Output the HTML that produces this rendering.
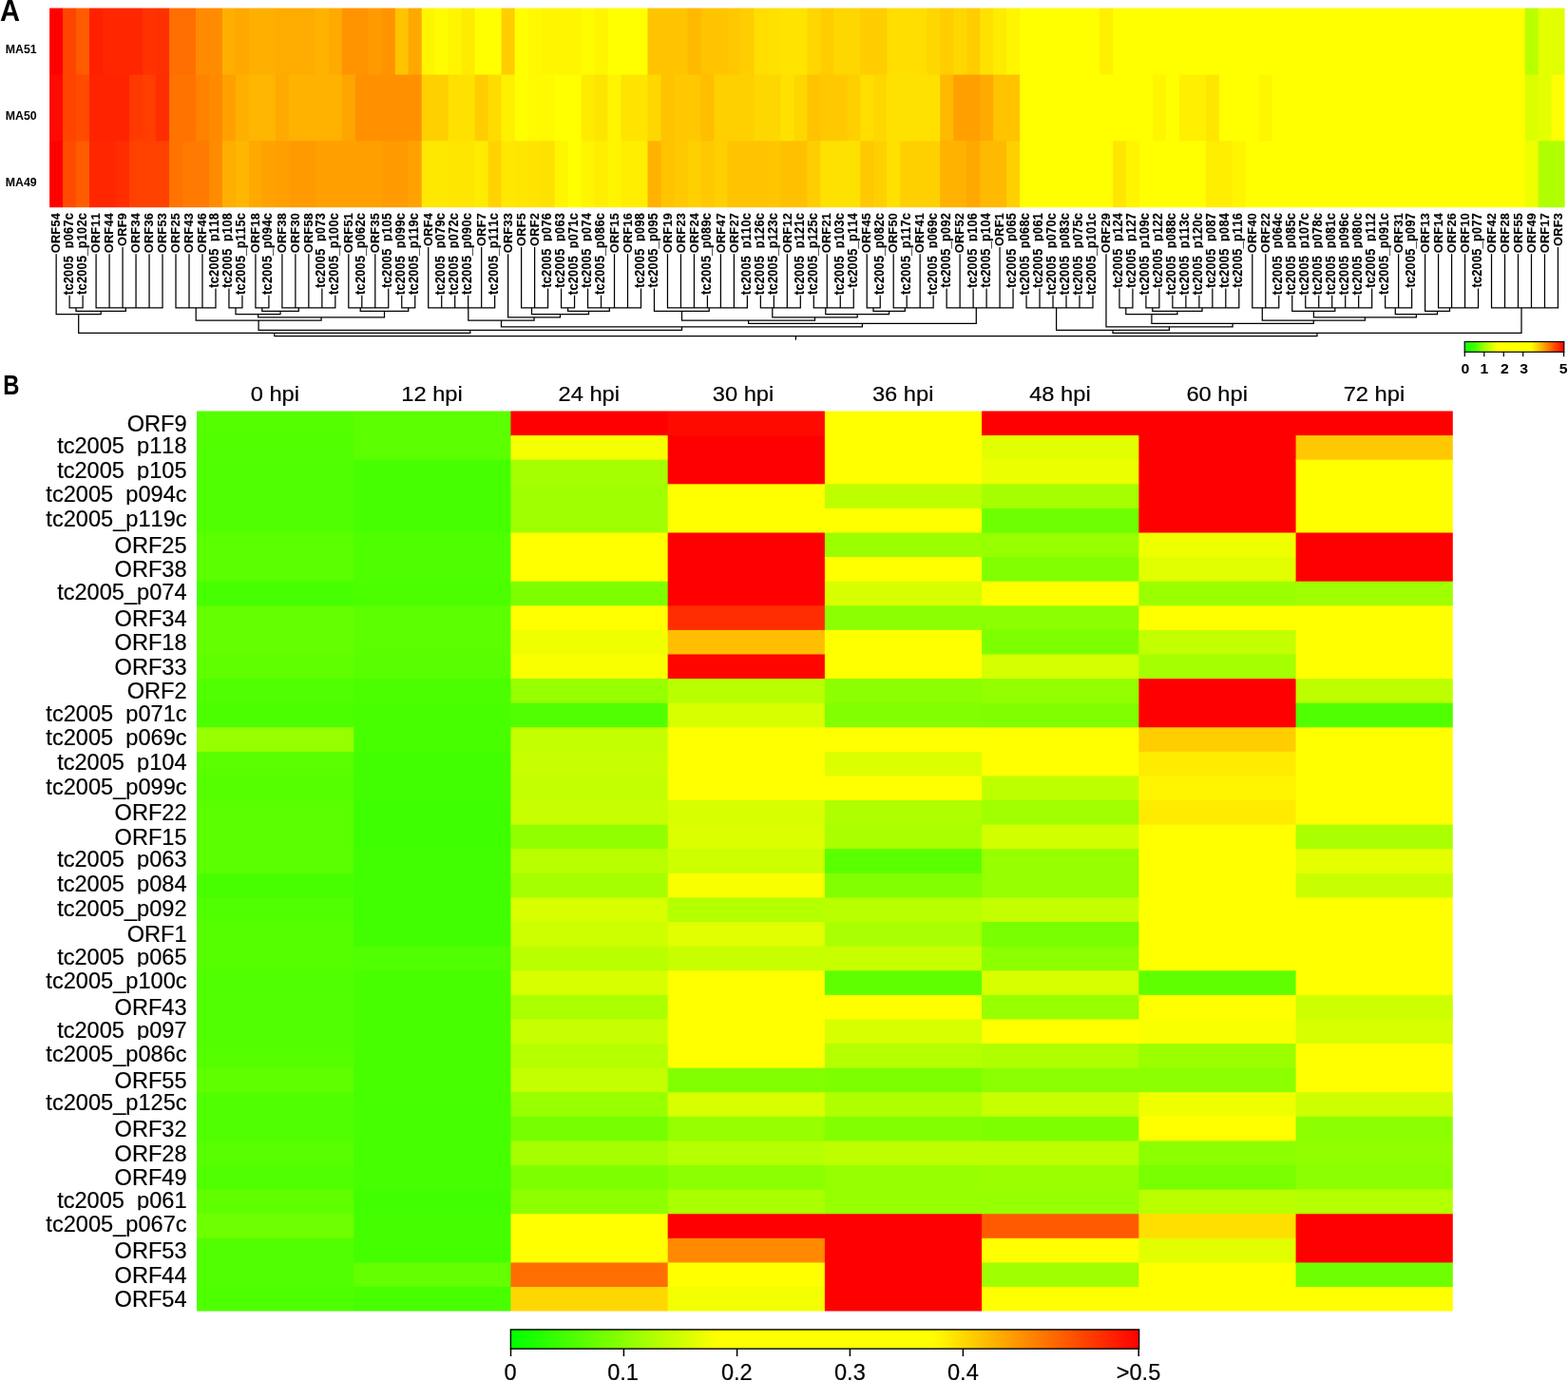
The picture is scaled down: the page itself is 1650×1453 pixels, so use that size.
<!DOCTYPE html>
<html lang="en"><head><meta charset="utf-8"><title>Figure</title>
<style>
html,body{margin:0;padding:0;background:#fff;}
body{width:1650px;height:1453px;overflow:hidden;}
svg{display:block;font-family:"Liberation Sans",sans-serif;}
svg text{white-space:pre;font-kerning:none;}
.al{font-weight:bold;font-size:12.7px;text-anchor:end;fill:#000;letter-spacing:0.3px;stroke:#000;stroke-width:0.12px;}
.al .ws{word-spacing:0.29em;}
.bl{font-size:23.6px;text-anchor:end;fill:#000;stroke:#000;stroke-width:0.2px;}
.bh{font-size:23px;text-anchor:middle;fill:#000;stroke:#000;stroke-width:0.2px;}
.ws{word-spacing:0.278em;}
.d{stroke:#000;stroke-width:1.25;fill:none;stroke-linecap:square;}
</style></head><body>
<svg width="1650" height="1453" viewBox="0 0 1650 1453">
<defs>
<linearGradient id="ga" x1="0" x2="1" y1="0" y2="0">
<stop offset="0" stop-color="#10ff00"/>
<stop offset="0.1" stop-color="#40ff00"/>
<stop offset="0.2" stop-color="#a0ff00"/>
<stop offset="0.33" stop-color="#ffff00"/>
<stop offset="0.67" stop-color="#ffff00"/>
<stop offset="0.78" stop-color="#ffb000"/>
<stop offset="0.9" stop-color="#ff5000"/>
<stop offset="1" stop-color="#ff0000"/>
</linearGradient>
<linearGradient id="gb" x1="0" x2="1" y1="0" y2="0">
<stop offset="0" stop-color="#00ff00"/>
<stop offset="0.33" stop-color="#ffff00"/>
<stop offset="0.67" stop-color="#ffff00"/>
<stop offset="1" stop-color="#ff0000"/>
</linearGradient>
</defs>
<rect x="0" y="0" width="1650" height="1453" fill="#fff"/>
<g id="panelA">
<text transform="translate(0.1,21.6) scale(1.04,1.13)" font-weight="bold" font-size="28">A</text>
<text transform="translate(5.7,56) scale(1,1.09)" font-weight="bold" font-size="12.35">MA51</text>
<text transform="translate(5.7,125.9) scale(1,1.09)" font-weight="bold" font-size="12.35">MA50</text>
<text transform="translate(5.7,195.9) scale(1,1.09)" font-weight="bold" font-size="12.35">MA49</text>
<g>
<rect x="50.1" y="6.6" width="16.99" height="72.95" fill="#ff0000"/>
<rect x="66.09" y="6.6" width="14.99" height="72.95" fill="#ff4400"/>
<rect x="80.07" y="6.6" width="14.99" height="72.95" fill="#ff5c00"/>
<rect x="94.06" y="6.6" width="14.99" height="72.95" fill="#ff2000"/>
<rect x="108.05" y="6.6" width="42.96" height="72.95" fill="#ff2600"/>
<rect x="150.01" y="6.6" width="14.99" height="72.95" fill="#ff3200"/>
<rect x="163.99" y="6.6" width="14.99" height="72.95" fill="#ff3000"/>
<rect x="177.98" y="6.6" width="28.97" height="72.95" fill="#ff6e00"/>
<rect x="205.96" y="6.6" width="28.97" height="72.95" fill="#ff8c00"/>
<rect x="233.93" y="6.6" width="14.99" height="72.95" fill="#ffaf00"/>
<rect x="247.92" y="6.6" width="14.99" height="72.95" fill="#ffa800"/>
<rect x="261.9" y="6.6" width="28.97" height="72.95" fill="#ffaf00"/>
<rect x="289.88" y="6.6" width="42.96" height="72.95" fill="#ffac00"/>
<rect x="331.84" y="6.6" width="14.99" height="72.95" fill="#ffb200"/>
<rect x="345.82" y="6.6" width="14.99" height="72.95" fill="#ffaa00"/>
<rect x="359.81" y="6.6" width="28.97" height="72.95" fill="#ff9400"/>
<rect x="387.78" y="6.6" width="14.99" height="72.95" fill="#ff9b00"/>
<rect x="401.77" y="6.6" width="14.99" height="72.95" fill="#ff9400"/>
<rect x="415.76" y="6.6" width="14.99" height="72.95" fill="#ffc300"/>
<rect x="429.74" y="6.6" width="14.99" height="72.95" fill="#ffa800"/>
<rect x="443.73" y="6.6" width="14.99" height="72.95" fill="#fff500"/>
<rect x="457.72" y="6.6" width="14.99" height="72.95" fill="#fffc00"/>
<rect x="471.71" y="6.6" width="14.99" height="72.95" fill="#fff500"/>
<rect x="485.69" y="6.6" width="14.99" height="72.95" fill="#ffeb00"/>
<rect x="499.68" y="6.6" width="28.97" height="72.95" fill="#ffff00"/>
<rect x="527.65" y="6.6" width="14.99" height="72.95" fill="#ffcd00"/>
<rect x="541.64" y="6.6" width="14.99" height="72.95" fill="#ffff00"/>
<rect x="555.63" y="6.6" width="14.99" height="72.95" fill="#fff800"/>
<rect x="569.61" y="6.6" width="42.96" height="72.95" fill="#fff500"/>
<rect x="611.57" y="6.6" width="14.99" height="72.95" fill="#fffc00"/>
<rect x="625.56" y="6.6" width="14.99" height="72.95" fill="#fff500"/>
<rect x="639.55" y="6.6" width="42.96" height="72.95" fill="#ffff00"/>
<rect x="681.51" y="6.6" width="42.96" height="72.95" fill="#ffc300"/>
<rect x="723.47" y="6.6" width="14.99" height="72.95" fill="#ffb900"/>
<rect x="737.46" y="6.6" width="28.97" height="72.95" fill="#ffc300"/>
<rect x="765.43" y="6.6" width="14.99" height="72.95" fill="#ffc800"/>
<rect x="779.42" y="6.6" width="14.99" height="72.95" fill="#ffcd00"/>
<rect x="793.4" y="6.6" width="14.99" height="72.95" fill="#ffde00"/>
<rect x="807.39" y="6.6" width="14.99" height="72.95" fill="#ffe100"/>
<rect x="821.38" y="6.6" width="28.97" height="72.95" fill="#ffe400"/>
<rect x="849.35" y="6.6" width="14.99" height="72.95" fill="#ffd700"/>
<rect x="863.34" y="6.6" width="14.99" height="72.95" fill="#ffcd00"/>
<rect x="877.32" y="6.6" width="28.97" height="72.95" fill="#ffd700"/>
<rect x="905.3" y="6.6" width="28.97" height="72.95" fill="#ffcd00"/>
<rect x="933.27" y="6.6" width="42.96" height="72.95" fill="#ffde00"/>
<rect x="975.23" y="6.6" width="14.99" height="72.95" fill="#ffd700"/>
<rect x="989.22" y="6.6" width="14.99" height="72.95" fill="#ffcd00"/>
<rect x="1003.21" y="6.6" width="14.99" height="72.95" fill="#ffd700"/>
<rect x="1017.19" y="6.6" width="14.99" height="72.95" fill="#ffcd00"/>
<rect x="1031.18" y="6.6" width="14.99" height="72.95" fill="#ffe100"/>
<rect x="1045.17" y="6.6" width="14.99" height="72.95" fill="#ffeb00"/>
<rect x="1059.15" y="6.6" width="14.99" height="72.95" fill="#fff500"/>
<rect x="1073.14" y="6.6" width="84.92" height="72.95" fill="#ffff00"/>
<rect x="1157.06" y="6.6" width="14.99" height="72.95" fill="#fff000"/>
<rect x="1171.05" y="6.6" width="434.59" height="72.95" fill="#ffff00"/>
<rect x="1604.64" y="6.6" width="14.99" height="72.95" fill="#b9ff00"/>
<rect x="1618.63" y="6.6" width="14.99" height="72.95" fill="#e4ff00"/>
<rect x="1632.61" y="6.6" width="15.99" height="72.95" fill="#e1ff00"/>
<rect x="50.1" y="78.55" width="16.99" height="70.75" fill="#ff0a00"/>
<rect x="66.09" y="78.55" width="14.99" height="70.75" fill="#ff4400"/>
<rect x="80.07" y="78.55" width="14.99" height="70.75" fill="#ff4b00"/>
<rect x="94.06" y="78.55" width="42.96" height="70.75" fill="#ff2300"/>
<rect x="136.02" y="78.55" width="14.99" height="70.75" fill="#ff3a00"/>
<rect x="150.01" y="78.55" width="14.99" height="70.75" fill="#ff3e00"/>
<rect x="163.99" y="78.55" width="14.99" height="70.75" fill="#ff2d00"/>
<rect x="177.98" y="78.55" width="28.97" height="70.75" fill="#ff7300"/>
<rect x="205.96" y="78.55" width="14.99" height="70.75" fill="#ff8200"/>
<rect x="219.94" y="78.55" width="14.99" height="70.75" fill="#ff8a00"/>
<rect x="233.93" y="78.55" width="14.99" height="70.75" fill="#ffa000"/>
<rect x="247.92" y="78.55" width="14.99" height="70.75" fill="#ffaf00"/>
<rect x="261.9" y="78.55" width="28.97" height="70.75" fill="#ffb600"/>
<rect x="289.88" y="78.55" width="14.99" height="70.75" fill="#ffaa00"/>
<rect x="303.86" y="78.55" width="56.95" height="70.75" fill="#ffb200"/>
<rect x="359.81" y="78.55" width="14.99" height="70.75" fill="#ffa500"/>
<rect x="373.8" y="78.55" width="70.93" height="70.75" fill="#ff9100"/>
<rect x="443.73" y="78.55" width="28.97" height="70.75" fill="#ffd000"/>
<rect x="471.71" y="78.55" width="28.97" height="70.75" fill="#ffe100"/>
<rect x="499.68" y="78.55" width="14.99" height="70.75" fill="#ffcd00"/>
<rect x="513.67" y="78.55" width="14.99" height="70.75" fill="#ffdc00"/>
<rect x="527.65" y="78.55" width="14.99" height="70.75" fill="#fff000"/>
<rect x="541.64" y="78.55" width="14.99" height="70.75" fill="#ffff00"/>
<rect x="555.63" y="78.55" width="28.97" height="70.75" fill="#fffa00"/>
<rect x="583.6" y="78.55" width="28.97" height="70.75" fill="#ffff00"/>
<rect x="611.57" y="78.55" width="14.99" height="70.75" fill="#ffeb00"/>
<rect x="625.56" y="78.55" width="14.99" height="70.75" fill="#ffe400"/>
<rect x="639.55" y="78.55" width="14.99" height="70.75" fill="#fff500"/>
<rect x="653.53" y="78.55" width="28.97" height="70.75" fill="#ffe400"/>
<rect x="681.51" y="78.55" width="14.99" height="70.75" fill="#ffd700"/>
<rect x="695.49" y="78.55" width="14.99" height="70.75" fill="#ffc300"/>
<rect x="709.48" y="78.55" width="28.97" height="70.75" fill="#ffc800"/>
<rect x="737.46" y="78.55" width="14.99" height="70.75" fill="#ffbe00"/>
<rect x="751.44" y="78.55" width="42.96" height="70.75" fill="#ffd000"/>
<rect x="793.4" y="78.55" width="28.97" height="70.75" fill="#ffd700"/>
<rect x="821.38" y="78.55" width="14.99" height="70.75" fill="#ffe100"/>
<rect x="835.36" y="78.55" width="14.99" height="70.75" fill="#ffd700"/>
<rect x="849.35" y="78.55" width="14.99" height="70.75" fill="#ffc300"/>
<rect x="863.34" y="78.55" width="28.97" height="70.75" fill="#ffc800"/>
<rect x="891.31" y="78.55" width="14.99" height="70.75" fill="#ffd000"/>
<rect x="905.3" y="78.55" width="14.99" height="70.75" fill="#ffde00"/>
<rect x="919.28" y="78.55" width="14.99" height="70.75" fill="#ffd700"/>
<rect x="933.27" y="78.55" width="56.95" height="70.75" fill="#ffe100"/>
<rect x="989.22" y="78.55" width="14.99" height="70.75" fill="#ffb900"/>
<rect x="1003.21" y="78.55" width="28.97" height="70.75" fill="#ffa000"/>
<rect x="1031.18" y="78.55" width="14.99" height="70.75" fill="#ffaa00"/>
<rect x="1045.17" y="78.55" width="28.97" height="70.75" fill="#ffc300"/>
<rect x="1073.14" y="78.55" width="140.87" height="70.75" fill="#ffff00"/>
<rect x="1213.01" y="78.55" width="14.99" height="70.75" fill="#fff500"/>
<rect x="1226.99" y="78.55" width="14.99" height="70.75" fill="#ffff00"/>
<rect x="1240.98" y="78.55" width="28.97" height="70.75" fill="#fff000"/>
<rect x="1268.96" y="78.55" width="14.99" height="70.75" fill="#ffe600"/>
<rect x="1282.94" y="78.55" width="42.96" height="70.75" fill="#ffff00"/>
<rect x="1324.9" y="78.55" width="14.99" height="70.75" fill="#fff500"/>
<rect x="1338.89" y="78.55" width="266.75" height="70.75" fill="#ffff00"/>
<rect x="1604.64" y="78.55" width="14.99" height="70.75" fill="#dcff00"/>
<rect x="1618.63" y="78.55" width="14.99" height="70.75" fill="#e4ff00"/>
<rect x="1632.61" y="78.55" width="15.99" height="70.75" fill="#ffff00"/>
<rect x="50.1" y="148.3" width="16.99" height="72" fill="#ff0000"/>
<rect x="66.09" y="148.3" width="14.99" height="72" fill="#ff4b00"/>
<rect x="80.07" y="148.3" width="14.99" height="72" fill="#ff5c00"/>
<rect x="94.06" y="148.3" width="28.97" height="72" fill="#ff2600"/>
<rect x="122.03" y="148.3" width="14.99" height="72" fill="#ff2d00"/>
<rect x="136.02" y="148.3" width="42.96" height="72" fill="#ff4100"/>
<rect x="177.98" y="148.3" width="14.99" height="72" fill="#ff7300"/>
<rect x="191.97" y="148.3" width="28.97" height="72" fill="#ff7a00"/>
<rect x="219.94" y="148.3" width="14.99" height="72" fill="#ff8c00"/>
<rect x="233.93" y="148.3" width="14.99" height="72" fill="#ffaf00"/>
<rect x="247.92" y="148.3" width="14.99" height="72" fill="#ffb600"/>
<rect x="261.9" y="148.3" width="14.99" height="72" fill="#ffa800"/>
<rect x="275.89" y="148.3" width="14.99" height="72" fill="#ffa200"/>
<rect x="289.88" y="148.3" width="14.99" height="72" fill="#ffa000"/>
<rect x="303.86" y="148.3" width="28.97" height="72" fill="#ff9b00"/>
<rect x="331.84" y="148.3" width="70.93" height="72" fill="#ffa000"/>
<rect x="401.77" y="148.3" width="28.97" height="72" fill="#ff9b00"/>
<rect x="429.74" y="148.3" width="14.99" height="72" fill="#ffa200"/>
<rect x="443.73" y="148.3" width="28.97" height="72" fill="#ffe800"/>
<rect x="471.71" y="148.3" width="28.97" height="72" fill="#ffe600"/>
<rect x="499.68" y="148.3" width="14.99" height="72" fill="#ffeb00"/>
<rect x="513.67" y="148.3" width="14.99" height="72" fill="#ffd200"/>
<rect x="527.65" y="148.3" width="14.99" height="72" fill="#ffe800"/>
<rect x="541.64" y="148.3" width="14.99" height="72" fill="#ffe600"/>
<rect x="555.63" y="148.3" width="14.99" height="72" fill="#ffe400"/>
<rect x="569.61" y="148.3" width="14.99" height="72" fill="#ffe100"/>
<rect x="583.6" y="148.3" width="14.99" height="72" fill="#fff500"/>
<rect x="597.59" y="148.3" width="14.99" height="72" fill="#ffff00"/>
<rect x="611.57" y="148.3" width="14.99" height="72" fill="#fff500"/>
<rect x="625.56" y="148.3" width="14.99" height="72" fill="#ffee00"/>
<rect x="639.55" y="148.3" width="14.99" height="72" fill="#fff500"/>
<rect x="653.53" y="148.3" width="28.97" height="72" fill="#ffee00"/>
<rect x="681.51" y="148.3" width="14.99" height="72" fill="#ffb200"/>
<rect x="695.49" y="148.3" width="14.99" height="72" fill="#ffc300"/>
<rect x="709.48" y="148.3" width="14.99" height="72" fill="#ffc800"/>
<rect x="723.47" y="148.3" width="14.99" height="72" fill="#ffd000"/>
<rect x="737.46" y="148.3" width="14.99" height="72" fill="#ffc800"/>
<rect x="751.44" y="148.3" width="14.99" height="72" fill="#ffd000"/>
<rect x="765.43" y="148.3" width="42.96" height="72" fill="#ffc300"/>
<rect x="807.39" y="148.3" width="14.99" height="72" fill="#ffc600"/>
<rect x="821.38" y="148.3" width="28.97" height="72" fill="#ffc000"/>
<rect x="849.35" y="148.3" width="14.99" height="72" fill="#ffcd00"/>
<rect x="863.34" y="148.3" width="42.96" height="72" fill="#ffe100"/>
<rect x="905.3" y="148.3" width="14.99" height="72" fill="#ffc800"/>
<rect x="919.28" y="148.3" width="14.99" height="72" fill="#ffd000"/>
<rect x="933.27" y="148.3" width="14.99" height="72" fill="#ffe100"/>
<rect x="947.26" y="148.3" width="42.96" height="72" fill="#ffd000"/>
<rect x="989.22" y="148.3" width="28.97" height="72" fill="#ffb200"/>
<rect x="1017.19" y="148.3" width="14.99" height="72" fill="#ffa800"/>
<rect x="1031.18" y="148.3" width="28.97" height="72" fill="#ffb900"/>
<rect x="1059.15" y="148.3" width="14.99" height="72" fill="#ffd000"/>
<rect x="1073.14" y="148.3" width="98.91" height="72" fill="#ffff00"/>
<rect x="1171.05" y="148.3" width="14.99" height="72" fill="#ffe600"/>
<rect x="1185.03" y="148.3" width="14.99" height="72" fill="#fff500"/>
<rect x="1199.02" y="148.3" width="70.93" height="72" fill="#ffff00"/>
<rect x="1268.96" y="148.3" width="28.97" height="72" fill="#ffee00"/>
<rect x="1296.93" y="148.3" width="14.99" height="72" fill="#fff500"/>
<rect x="1310.92" y="148.3" width="294.72" height="72" fill="#ffff00"/>
<rect x="1604.64" y="148.3" width="14.99" height="72" fill="#f0ff00"/>
<rect x="1618.63" y="148.3" width="29.97" height="72" fill="#afff00"/>
<path fill="#fff" fill-rule="evenodd" d="M49.1 5.6H1649.6V221.3H49.1ZM52.1 8.6H1646.6V218.3H52.1Z"/>
</g>
<g class="al">
<text transform="translate(63.35,223.85) rotate(-90) scale(1,1.05)">ORF54</text>
<text class="ws" transform="translate(76.53,223.85) rotate(-90) scale(1,1.08)">tc2005 p067c</text>
<rect x="77.44" y="221" width="3.4" height="95" fill="#fff" stroke="none"/>
<text transform="translate(90.52,223.85) rotate(-90) scale(1,1.08)">tc2005_p102c</text>
<text transform="translate(105.3,223.85) rotate(-90) scale(1,1.05)">ORF11</text>
<text transform="translate(119.29,223.85) rotate(-90) scale(1,1.05)">ORF44</text>
<text transform="translate(133.27,223.85) rotate(-90) scale(1,1.05)">ORF9</text>
<text transform="translate(147.26,223.85) rotate(-90) scale(1,1.05)">ORF34</text>
<text transform="translate(161.24,223.85) rotate(-90) scale(1,1.05)">ORF36</text>
<text transform="translate(175.23,223.85) rotate(-90) scale(1,1.05)">ORF53</text>
<text transform="translate(189.21,223.85) rotate(-90) scale(1,1.05)">ORF25</text>
<text transform="translate(203.2,223.85) rotate(-90) scale(1,1.05)">ORF43</text>
<text transform="translate(217.18,223.85) rotate(-90) scale(1,1.05)">ORF46</text>
<text class="ws" transform="translate(230.37,223.85) rotate(-90) scale(1,1.08)">tc2005 p118</text>
<rect x="231.27" y="221" width="3.4" height="95" fill="#fff" stroke="none"/>
<text class="ws" transform="translate(244.35,223.85) rotate(-90) scale(1,1.08)">tc2005 p108</text>
<rect x="245.25" y="221" width="3.4" height="95" fill="#fff" stroke="none"/>
<text transform="translate(258.34,223.85) rotate(-90) scale(1,1.08)">tc2005_p115c</text>
<text transform="translate(273.12,223.85) rotate(-90) scale(1,1.05)">ORF18</text>
<text transform="translate(286.31,223.85) rotate(-90) scale(1,1.08)">tc2005_p094c</text>
<text transform="translate(301.09,223.85) rotate(-90) scale(1,1.05)">ORF38</text>
<text transform="translate(315.08,223.85) rotate(-90) scale(1,1.05)">ORF30</text>
<text transform="translate(329.06,223.85) rotate(-90) scale(1,1.05)">ORF58</text>
<text class="ws" transform="translate(342.25,223.85) rotate(-90) scale(1,1.08)">tc2005 p073</text>
<rect x="343.15" y="221" width="3.4" height="95" fill="#fff" stroke="none"/>
<text transform="translate(356.23,223.85) rotate(-90) scale(1,1.08)">tc2005_p100c</text>
<text transform="translate(371.02,223.85) rotate(-90) scale(1,1.05)">ORF51</text>
<text transform="translate(384.2,223.85) rotate(-90) scale(1,1.08)">tc2005_p062c</text>
<text transform="translate(398.99,223.85) rotate(-90) scale(1,1.05)">ORF35</text>
<text class="ws" transform="translate(412.17,223.85) rotate(-90) scale(1,1.08)">tc2005 p105</text>
<rect x="413.07" y="221" width="3.4" height="95" fill="#fff" stroke="none"/>
<text class="ws" transform="translate(426.16,223.85) rotate(-90) scale(1,1.08)">tc2005 p099c</text>
<rect x="427.06" y="221" width="3.4" height="95" fill="#fff" stroke="none"/>
<text transform="translate(440.14,223.85) rotate(-90) scale(1,1.08)">tc2005_p119c</text>
<text transform="translate(454.93,223.85) rotate(-90) scale(1,1.05)">ORF4</text>
<text class="ws" transform="translate(468.11,223.85) rotate(-90) scale(1,1.08)">tc2005 p079c</text>
<rect x="469.01" y="221" width="3.4" height="95" fill="#fff" stroke="none"/>
<text class="ws" transform="translate(482.1,223.85) rotate(-90) scale(1,1.08)">tc2005 p072c</text>
<rect x="483" y="221" width="3.4" height="95" fill="#fff" stroke="none"/>
<text transform="translate(496.08,223.85) rotate(-90) scale(1,1.08)">tc2005_p090c</text>
<text transform="translate(510.87,223.85) rotate(-90) scale(1,1.05)">ORF7</text>
<text transform="translate(524.06,223.85) rotate(-90) scale(1,1.08)">tc2005_p111c</text>
<text transform="translate(538.84,223.85) rotate(-90) scale(1,1.05)">ORF33</text>
<text transform="translate(552.83,223.85) rotate(-90) scale(1,1.05)">ORF5</text>
<text transform="translate(566.81,223.85) rotate(-90) scale(1,1.05)">ORF2</text>
<text class="ws" transform="translate(580,223.85) rotate(-90) scale(1,1.08)">tc2005 p076</text>
<rect x="580.89" y="221" width="3.4" height="95" fill="#fff" stroke="none"/>
<text class="ws" transform="translate(593.98,223.85) rotate(-90) scale(1,1.08)">tc2005 p063</text>
<rect x="594.88" y="221" width="3.4" height="95" fill="#fff" stroke="none"/>
<text class="ws" transform="translate(607.97,223.85) rotate(-90) scale(1,1.08)">tc2005 p071c</text>
<rect x="608.87" y="221" width="3.4" height="95" fill="#fff" stroke="none"/>
<text class="ws" transform="translate(621.95,223.85) rotate(-90) scale(1,1.08)">tc2005 p074</text>
<rect x="622.85" y="221" width="3.4" height="95" fill="#fff" stroke="none"/>
<text transform="translate(635.94,223.85) rotate(-90) scale(1,1.08)">tc2005_p086c</text>
<text transform="translate(650.72,223.85) rotate(-90) scale(1,1.05)">ORF15</text>
<text transform="translate(664.71,223.85) rotate(-90) scale(1,1.05)">ORF16</text>
<text class="ws" transform="translate(677.89,223.85) rotate(-90) scale(1,1.08)">tc2005 p098</text>
<rect x="678.79" y="221" width="3.4" height="95" fill="#fff" stroke="none"/>
<text transform="translate(691.88,223.85) rotate(-90) scale(1,1.08)">tc2005_p095</text>
<text transform="translate(706.66,223.85) rotate(-90) scale(1,1.05)">ORF19</text>
<text transform="translate(720.64,223.85) rotate(-90) scale(1,1.05)">ORF23</text>
<text transform="translate(734.63,223.85) rotate(-90) scale(1,1.05)">ORF24</text>
<text transform="translate(747.82,223.85) rotate(-90) scale(1,1.08)">tc2005_p089c</text>
<text transform="translate(762.6,223.85) rotate(-90) scale(1,1.05)">ORF47</text>
<text transform="translate(776.59,223.85) rotate(-90) scale(1,1.05)">ORF27</text>
<text class="ws" transform="translate(789.77,223.85) rotate(-90) scale(1,1.08)">tc2005 p110c</text>
<rect x="790.67" y="221" width="3.4" height="95" fill="#fff" stroke="none"/>
<text class="ws" transform="translate(803.75,223.85) rotate(-90) scale(1,1.08)">tc2005 p126c</text>
<rect x="804.65" y="221" width="3.4" height="95" fill="#fff" stroke="none"/>
<text transform="translate(817.74,223.85) rotate(-90) scale(1,1.08)">tc2005_p123c</text>
<text transform="translate(832.52,223.85) rotate(-90) scale(1,1.05)">ORF12</text>
<text class="ws" transform="translate(845.71,223.85) rotate(-90) scale(1,1.08)">tc2005 p121c</text>
<rect x="846.61" y="221" width="3.4" height="95" fill="#fff" stroke="none"/>
<text transform="translate(859.7,223.85) rotate(-90) scale(1,1.08)">tc2005_p125c</text>
<text transform="translate(874.48,223.85) rotate(-90) scale(1,1.05)">ORF21</text>
<text class="ws" transform="translate(887.67,223.85) rotate(-90) scale(1,1.08)">tc2005 p103c</text>
<rect x="888.57" y="221" width="3.4" height="95" fill="#fff" stroke="none"/>
<text transform="translate(901.65,223.85) rotate(-90) scale(1,1.08)">tc2005_p114</text>
<text transform="translate(916.43,223.85) rotate(-90) scale(1,1.05)">ORF45</text>
<text transform="translate(929.62,223.85) rotate(-90) scale(1,1.08)">tc2005_p082c</text>
<text transform="translate(944.4,223.85) rotate(-90) scale(1,1.05)">ORF50</text>
<text transform="translate(957.59,223.85) rotate(-90) scale(1,1.08)">tc2005_p117c</text>
<text transform="translate(972.38,223.85) rotate(-90) scale(1,1.05)">ORF41</text>
<text class="ws" transform="translate(985.56,223.85) rotate(-90) scale(1,1.08)">tc2005 p069c</text>
<rect x="986.46" y="221" width="3.4" height="95" fill="#fff" stroke="none"/>
<text transform="translate(999.55,223.85) rotate(-90) scale(1,1.08)">tc2005_p092</text>
<text transform="translate(1014.33,223.85) rotate(-90) scale(1,1.05)">ORF52</text>
<text class="ws" transform="translate(1027.52,223.85) rotate(-90) scale(1,1.08)">tc2005 p106</text>
<rect x="1028.42" y="221" width="3.4" height="95" fill="#fff" stroke="none"/>
<text transform="translate(1041.5,223.85) rotate(-90) scale(1,1.08)">tc2005_p104</text>
<text transform="translate(1056.29,223.85) rotate(-90) scale(1,1.05)">ORF1</text>
<text class="ws" transform="translate(1069.47,223.85) rotate(-90) scale(1,1.08)">tc2005 p065</text>
<rect x="1070.37" y="221" width="3.4" height="95" fill="#fff" stroke="none"/>
<text class="ws" transform="translate(1083.46,223.85) rotate(-90) scale(1,1.08)">tc2005 p068c</text>
<rect x="1084.36" y="221" width="3.4" height="95" fill="#fff" stroke="none"/>
<text class="ws" transform="translate(1097.44,223.85) rotate(-90) scale(1,1.08)">tc2005 p061</text>
<rect x="1098.34" y="221" width="3.4" height="95" fill="#fff" stroke="none"/>
<text class="ws" transform="translate(1111.43,223.85) rotate(-90) scale(1,1.08)">tc2005 p070c</text>
<rect x="1112.33" y="221" width="3.4" height="95" fill="#fff" stroke="none"/>
<text class="ws" transform="translate(1125.41,223.85) rotate(-90) scale(1,1.08)">tc2005 p083c</text>
<rect x="1126.31" y="221" width="3.4" height="95" fill="#fff" stroke="none"/>
<text class="ws" transform="translate(1139.4,223.85) rotate(-90) scale(1,1.08)">tc2005 p075c</text>
<rect x="1140.3" y="221" width="3.4" height="95" fill="#fff" stroke="none"/>
<text transform="translate(1153.38,223.85) rotate(-90) scale(1,1.08)">tc2005_p101c</text>
<text transform="translate(1168.17,223.85) rotate(-90) scale(1,1.05)">ORF29</text>
<text class="ws" transform="translate(1181.35,223.85) rotate(-90) scale(1,1.08)">tc2005 p124</text>
<rect x="1182.25" y="221" width="3.4" height="95" fill="#fff" stroke="none"/>
<text class="ws" transform="translate(1195.34,223.85) rotate(-90) scale(1,1.08)">tc2005 p127</text>
<rect x="1196.24" y="221" width="3.4" height="95" fill="#fff" stroke="none"/>
<text class="ws" transform="translate(1209.32,223.85) rotate(-90) scale(1,1.08)">tc2005 p109c</text>
<rect x="1210.22" y="221" width="3.4" height="95" fill="#fff" stroke="none"/>
<text class="ws" transform="translate(1223.31,223.85) rotate(-90) scale(1,1.08)">tc2005 p122</text>
<rect x="1224.21" y="221" width="3.4" height="95" fill="#fff" stroke="none"/>
<text class="ws" transform="translate(1237.29,223.85) rotate(-90) scale(1,1.08)">tc2005 p088c</text>
<rect x="1238.19" y="221" width="3.4" height="95" fill="#fff" stroke="none"/>
<text class="ws" transform="translate(1251.28,223.85) rotate(-90) scale(1,1.08)">tc2005 p113c</text>
<rect x="1252.18" y="221" width="3.4" height="95" fill="#fff" stroke="none"/>
<text class="ws" transform="translate(1265.26,223.85) rotate(-90) scale(1,1.08)">tc2005 p120c</text>
<rect x="1266.16" y="221" width="3.4" height="95" fill="#fff" stroke="none"/>
<text class="ws" transform="translate(1279.25,223.85) rotate(-90) scale(1,1.08)">tc2005 p087</text>
<rect x="1280.15" y="221" width="3.4" height="95" fill="#fff" stroke="none"/>
<text class="ws" transform="translate(1293.23,223.85) rotate(-90) scale(1,1.08)">tc2005 p084</text>
<rect x="1294.13" y="221" width="3.4" height="95" fill="#fff" stroke="none"/>
<text transform="translate(1307.22,223.85) rotate(-90) scale(1,1.08)">tc2005_p116</text>
<text transform="translate(1322,223.85) rotate(-90) scale(1,1.05)">ORF40</text>
<text transform="translate(1335.99,223.85) rotate(-90) scale(1,1.05)">ORF22</text>
<text class="ws" transform="translate(1349.17,223.85) rotate(-90) scale(1,1.08)">tc2005 p064c</text>
<rect x="1350.07" y="221" width="3.4" height="95" fill="#fff" stroke="none"/>
<text class="ws" transform="translate(1363.16,223.85) rotate(-90) scale(1,1.08)">tc2005 p085c</text>
<rect x="1364.06" y="221" width="3.4" height="95" fill="#fff" stroke="none"/>
<text class="ws" transform="translate(1377.14,223.85) rotate(-90) scale(1,1.08)">tc2005 p107c</text>
<rect x="1378.04" y="221" width="3.4" height="95" fill="#fff" stroke="none"/>
<text class="ws" transform="translate(1391.13,223.85) rotate(-90) scale(1,1.08)">tc2005 p078c</text>
<rect x="1392.03" y="221" width="3.4" height="95" fill="#fff" stroke="none"/>
<text class="ws" transform="translate(1405.11,223.85) rotate(-90) scale(1,1.08)">tc2005 p081c</text>
<rect x="1406.01" y="221" width="3.4" height="95" fill="#fff" stroke="none"/>
<text class="ws" transform="translate(1419.1,223.85) rotate(-90) scale(1,1.08)">tc2005 p096c</text>
<rect x="1420" y="221" width="3.4" height="95" fill="#fff" stroke="none"/>
<text class="ws" transform="translate(1433.08,223.85) rotate(-90) scale(1,1.08)">tc2005 p080c</text>
<rect x="1433.98" y="221" width="3.4" height="95" fill="#fff" stroke="none"/>
<text class="ws" transform="translate(1447.07,223.85) rotate(-90) scale(1,1.08)">tc2005 p112</text>
<rect x="1447.97" y="221" width="3.4" height="95" fill="#fff" stroke="none"/>
<text transform="translate(1461.05,223.85) rotate(-90) scale(1,1.08)">tc2005_p091c</text>
<text transform="translate(1475.84,223.85) rotate(-90) scale(1,1.05)">ORF31</text>
<text transform="translate(1489.02,223.85) rotate(-90) scale(1,1.08)">tc2005_p097</text>
<text transform="translate(1503.81,223.85) rotate(-90) scale(1,1.05)">ORF13</text>
<text transform="translate(1517.79,223.85) rotate(-90) scale(1,1.05)">ORF14</text>
<text transform="translate(1531.78,223.85) rotate(-90) scale(1,1.05)">ORF26</text>
<text transform="translate(1545.76,223.85) rotate(-90) scale(1,1.05)">ORF10</text>
<text transform="translate(1558.95,223.85) rotate(-90) scale(1,1.08)">tc2005_p077</text>
<text transform="translate(1573.73,223.85) rotate(-90) scale(1,1.05)">ORF42</text>
<text transform="translate(1587.72,223.85) rotate(-90) scale(1,1.05)">ORF28</text>
<text transform="translate(1601.7,223.85) rotate(-90) scale(1,1.05)">ORF55</text>
<text transform="translate(1615.69,223.85) rotate(-90) scale(1,1.05)">ORF49</text>
<text transform="translate(1629.67,223.85) rotate(-90) scale(1,1.05)">ORF17</text>
<text transform="translate(1643.65,223.85) rotate(-90) scale(1,1.05)">ORF3</text>
</g>
<path class="d" d="M59.15 267.99L59.15 330.6M73.13 311.4L73.13 323.9M87.12 311.4L87.12 323.9M101.1 267.99L101.1 323.9M115.09 267.99L115.09 323.9M129.07 260.63L129.07 323.9M143.06 267.99L143.06 323.9M157.04 267.99L157.04 323.9M171.03 267.99L171.03 323.9M185.01 267.99L185.01 323.9M199 267.99L199 323.9M212.98 267.99L212.98 323.9M226.97 304.04L226.97 323.9M240.96 304.04L240.96 323.9M254.94 311.4L254.94 323.9M268.92 267.99L268.92 323.9M282.91 311.4L282.91 323.9M296.89 267.99L296.89 323.9M310.88 267.99L310.88 323.9M324.86 267.99L324.86 323.9M338.85 304.04L338.85 323.9M352.83 311.4L352.83 323.9M366.82 267.99L366.82 323.9M380.8 311.4L380.8 323.9M394.79 267.99L394.79 323.9M408.77 304.04L408.77 323.9M422.76 311.4L422.76 323.9M436.74 311.4L436.74 323.9M450.73 260.63L450.73 323.9M464.71 311.4L464.71 323.9M478.7 311.4L478.7 323.9M492.68 311.4L492.68 323.9M506.67 260.63L506.67 323.9M520.65 311.4L520.65 323.9M534.64 267.99L534.64 333.8M548.62 260.63L548.62 323.9M562.61 260.63L562.61 323.9M576.59 304.04L576.59 323.9M590.58 304.04L590.58 323.9M604.56 311.4L604.56 323.9M618.55 304.04L618.55 323.9M632.53 311.4L632.53 323.9M646.52 267.99L646.52 323.9M660.5 267.99L660.5 323.9M674.49 304.04L674.49 323.9M688.47 304.04L688.47 327.3M702.46 267.99L702.46 323.9M716.44 267.99L716.44 323.9M730.43 267.99L730.43 323.9M744.41 311.4L744.41 323.9M758.4 267.99L758.4 323.9M772.38 267.99L772.38 323.9M786.37 311.4L786.37 323.9M800.35 311.4L800.35 323.9M814.34 311.4L814.34 323.9M828.32 267.99L828.32 323.9M842.31 311.4L842.31 323.9M856.29 311.4L856.29 323.9M870.28 267.99L870.28 323.9M884.26 311.4L884.26 323.9M898.25 304.04L898.25 323.9M912.23 267.99L912.23 323.9M926.22 311.4L926.22 323.9M940.2 267.99L940.2 323.9M954.19 311.4L954.19 323.9M968.17 267.99L968.17 323.9M982.16 311.4L982.16 323.9M996.14 304.04L996.14 323.9M1010.13 267.99L1010.13 323.9M1024.12 304.04L1024.12 323.9M1038.1 304.04L1038.1 323.9M1052.09 260.63L1052.09 323.9M1066.07 304.04L1066.07 323.9M1080.06 311.4L1080.06 323.9M1094.04 304.04L1094.04 323.9M1108.03 311.4L1108.03 323.9M1122.01 311.4L1122.01 323.9M1136 311.4L1136 323.9M1149.98 311.4L1149.98 323.9M1163.97 267.99L1163.97 343.9M1177.95 304.04L1177.95 323.9M1191.93 304.04L1191.93 323.9M1205.92 311.4L1205.92 323.9M1219.9 304.04L1219.9 323.9M1233.89 311.4L1233.89 323.9M1247.88 311.4L1247.88 323.9M1261.86 311.4L1261.86 323.9M1275.85 304.04L1275.85 323.9M1289.83 304.04L1289.83 323.9M1303.82 304.04L1303.82 323.9M1317.8 267.99L1317.8 323.9M1331.79 267.99L1331.79 323.9M1345.77 311.4L1345.77 323.9M1359.76 311.4L1359.76 327.3M1373.74 311.4L1373.74 323.9M1387.73 311.4L1387.73 323.9M1401.71 311.4L1401.71 323.9M1415.69 311.4L1415.69 323.9M1429.68 311.4L1429.68 323.9M1443.66 304.04L1443.66 323.9M1457.65 311.4L1457.65 323.9M1471.63 267.99L1471.63 323.9M1485.62 304.04L1485.62 323.9M1499.61 267.99L1499.61 327.3M1513.59 267.99L1513.59 323.9M1527.58 267.99L1527.58 323.9M1541.56 267.99L1541.56 323.9M1555.55 304.04L1555.55 323.9M1569.53 267.99L1569.53 323.9M1583.52 267.99L1583.52 323.9M1597.5 267.99L1597.5 323.9M1611.49 267.99L1611.49 323.9M1625.47 267.99L1625.47 323.9M1639.45 260.63L1639.45 323.9M73.13 323.9L87.12 323.9M101.1 323.9L171.03 323.9M185.01 323.9L226.97 323.9M240.96 323.9L254.94 323.9M268.92 323.9L282.91 323.9M296.89 323.9L352.83 323.9M366.82 323.9L408.77 323.9M422.76 323.9L436.74 323.9M450.73 323.9L520.65 323.9M548.62 323.9L576.59 323.9M590.58 323.9L604.56 323.9M618.55 323.9L674.49 323.9M702.46 323.9L786.37 323.9M800.35 323.9L842.31 323.9M856.29 323.9L898.25 323.9M912.23 323.9L926.22 323.9M940.2 323.9L982.16 323.9M996.14 323.9L1066.07 323.9M1080.06 323.9L1149.98 323.9M1177.95 323.9L1191.93 323.9M1205.92 323.9L1219.9 323.9M1233.89 323.9L1303.82 323.9M1317.8 323.9L1345.77 323.9M1373.74 323.9L1443.66 323.9M1457.65 323.9L1485.62 323.9M1513.59 323.9L1555.55 323.9M1569.53 323.9L1639.45 323.9M80 323.9L80 327.3M132.3 323.9L132.3 327.3M80 327.3L132.3 327.3M106.2 327.3L106.2 330.6M59.15 330.6L106.2 330.6M275.8 323.9L275.8 327.3M314.3 323.9L314.3 327.3M275.8 327.3L314.3 327.3M248 323.9L248 330.6M295 327.3L295 330.6M248 330.6L295 330.6M379.2 323.9L379.2 327.3M429.7 323.9L429.7 327.3M379.2 327.3L429.7 327.3M271.6 330.6L271.6 333.8M404.5 327.3L404.5 333.8M271.6 333.8L404.5 333.8M206.2 323.9L206.2 337.1M338.1 333.8L338.1 337.1M206.2 337.1L338.1 337.1M597.6 323.9L597.6 327.3M641.3 323.9L641.3 327.3M597.6 327.3L641.3 327.3M559.5 323.9L559.5 330.6M619.5 327.3L619.5 330.6M559.5 330.6L619.5 330.6M589.5 330.6L589.5 333.8M534.64 333.8L589.5 333.8M492.8 323.9L492.8 337.1M562.1 333.8L562.1 337.1M492.8 337.1L562.1 337.1M746.2 323.9L746.2 327.3M688.47 327.3L746.2 327.3M919 323.9L919 327.3M952.3 323.9L952.3 327.3M919 327.3L952.3 327.3M868.8 323.9L868.8 330.6M935.6 327.3L935.6 330.6M868.8 330.6L935.6 330.6M812.8 323.9L812.8 333.8M902.2 330.6L902.2 333.8M812.8 333.8L902.2 333.8M717.5 327.3L717.5 337.1M857.5 333.8L857.5 337.1M717.5 337.1L857.5 337.1M787.6 337.1L787.6 340.4M1027.3 323.9L1027.3 340.4M787.6 340.4L1027.3 340.4M527.5 337.1L527.5 343.9M907.4 340.4L907.4 343.9M527.5 343.9L907.4 343.9M272.1 337.1L272.1 347.3M717.5 343.9L717.5 347.3M272.1 347.3L717.5 347.3M82.7 330.6L82.7 350.4M494.8 347.3L494.8 350.4M82.7 350.4L494.8 350.4M1212.8 323.9L1212.8 327.3M1265 323.9L1265 327.3M1212.8 327.3L1265 327.3M1184.8 323.9L1184.8 330.6M1238.9 327.3L1238.9 330.6M1184.8 330.6L1238.9 330.6M1404.8 323.9L1404.8 327.3M1359.76 327.3L1404.8 327.3M1525.5 323.9L1525.5 327.3M1499.61 327.3L1525.5 327.3M1468.3 323.9L1468.3 330.6M1512.5 327.3L1512.5 330.6M1468.3 330.6L1512.5 330.6M1382.4 327.3L1382.4 333.8M1490.4 330.6L1490.4 333.8M1382.4 333.8L1490.4 333.8M1328.3 323.9L1328.3 337.1M1436.4 333.8L1436.4 337.1M1328.3 337.1L1436.4 337.1M1211.9 330.6L1211.9 340.4M1382.3 337.1L1382.3 340.4M1211.9 340.4L1382.3 340.4M1297.1 340.4L1297.1 343.9M1163.97 343.9L1297.1 343.9M1111.6 323.9L1111.6 347.3M1230.4 343.9L1230.4 347.3M1111.6 347.3L1230.4 347.3M1171 347.3L1171 350.4M1601 323.9L1601 350.4M1171 350.4L1601 350.4M288.8 350.4L288.8 353.7M1386 350.4L1386 353.7M288.8 353.7L1386 353.7M837.4 353.7L837.4 357"/>
<rect x="1541.2" y="359.5" width="104.6" height="10.8" fill="url(#ga)" stroke="#000" stroke-width="1.2"/>
<path d="M1541.3 370V375.3M1561.8 370V375.3M1582.3 370V375.3M1602.7 370V375.3M1645.6 370V375.3" stroke="#000" stroke-width="1.2" fill="none"/>
<g font-weight="bold" font-size="14.5" text-anchor="middle">
<text transform="translate(1542,393.1) scale(1.09,1)">0</text>
<text transform="translate(1561.9,393.1) scale(1.09,1)">1</text>
<text transform="translate(1583.4,393.1) scale(1.09,1)">2</text>
<text transform="translate(1603.7,393.1) scale(1.09,1)">3</text>
<text transform="translate(1645.2,393.1) scale(1.09,1)">5</text>
</g>
</g>
<g id="panelB">
<text transform="translate(3.2,414.5) scale(0.915,1.15)" font-weight="bold" font-size="26">B</text>
<g class="bh">
<text transform="translate(289.31,421.9) scale(1.03,0.965)">0 hpi</text>
<text transform="translate(454.54,421.9) scale(1.03,0.965)">12 hpi</text>
<text transform="translate(619.76,421.9) scale(1.03,0.965)">24 hpi</text>
<text transform="translate(781.99,421.9) scale(1.03,0.965)">30 hpi</text>
<text transform="translate(950.21,421.9) scale(1.03,0.965)">36 hpi</text>
<text transform="translate(1115.44,421.9) scale(1.03,0.965)">48 hpi</text>
<text transform="translate(1280.66,421.9) scale(1.03,0.965)">60 hpi</text>
<text transform="translate(1445.89,421.9) scale(1.03,0.965)">72 hpi</text>
</g>
<g>
<rect x="205" y="430.5" width="168.23" height="28.6" fill="#54ff00"/>
<rect x="205" y="458.1" width="168.23" height="26.6" fill="#52ff00"/>
<rect x="205" y="483.69" width="168.23" height="77.79" fill="#50ff00"/>
<rect x="205" y="560.49" width="168.23" height="52.19" fill="#5aff00"/>
<rect x="205" y="611.68" width="168.23" height="26.6" fill="#46ff00"/>
<rect x="205" y="637.28" width="168.23" height="52.19" fill="#64ff00"/>
<rect x="205" y="688.47" width="168.23" height="26.6" fill="#5fff00"/>
<rect x="205" y="714.07" width="168.23" height="26.6" fill="#50ff00"/>
<rect x="205" y="739.67" width="168.23" height="26.6" fill="#4bff00"/>
<rect x="205" y="765.26" width="168.23" height="26.6" fill="#96ff00"/>
<rect x="205" y="790.86" width="168.23" height="26.6" fill="#5aff00"/>
<rect x="205" y="816.46" width="168.23" height="26.6" fill="#55ff00"/>
<rect x="205" y="842.06" width="168.23" height="77.79" fill="#5aff00"/>
<rect x="205" y="918.85" width="168.23" height="26.6" fill="#48ff00"/>
<rect x="205" y="944.45" width="168.23" height="26.6" fill="#50ff00"/>
<rect x="205" y="970.04" width="168.23" height="52.19" fill="#55ff00"/>
<rect x="205" y="1021.24" width="168.23" height="26.6" fill="#50ff00"/>
<rect x="205" y="1046.84" width="168.23" height="52.19" fill="#52ff00"/>
<rect x="205" y="1098.03" width="168.23" height="26.6" fill="#55ff00"/>
<rect x="205" y="1123.63" width="168.23" height="26.6" fill="#5fff00"/>
<rect x="205" y="1149.22" width="168.23" height="52.19" fill="#50ff00"/>
<rect x="205" y="1200.42" width="168.23" height="26.6" fill="#58ff00"/>
<rect x="205" y="1226.02" width="168.23" height="26.6" fill="#50ff00"/>
<rect x="205" y="1251.61" width="168.23" height="26.6" fill="#5fff00"/>
<rect x="205" y="1277.21" width="168.23" height="26.6" fill="#6eff00"/>
<rect x="205" y="1302.81" width="168.23" height="52.19" fill="#52ff00"/>
<rect x="205" y="1354" width="168.23" height="27.6" fill="#4eff00"/>
<rect x="372.23" y="430.5" width="166.23" height="54.19" fill="#5cff00"/>
<rect x="372.23" y="483.69" width="166.23" height="77.79" fill="#46ff00"/>
<rect x="372.23" y="560.49" width="166.23" height="52.19" fill="#4eff00"/>
<rect x="372.23" y="611.68" width="166.23" height="26.6" fill="#4bff00"/>
<rect x="372.23" y="637.28" width="166.23" height="52.19" fill="#5cff00"/>
<rect x="372.23" y="688.47" width="166.23" height="26.6" fill="#58ff00"/>
<rect x="372.23" y="714.07" width="166.23" height="26.6" fill="#4bff00"/>
<rect x="372.23" y="739.67" width="166.23" height="52.19" fill="#48ff00"/>
<rect x="372.23" y="790.86" width="166.23" height="52.19" fill="#41ff00"/>
<rect x="372.23" y="842.06" width="166.23" height="52.19" fill="#3eff00"/>
<rect x="372.23" y="893.25" width="166.23" height="103.39" fill="#41ff00"/>
<rect x="372.23" y="995.64" width="166.23" height="26.6" fill="#50ff00"/>
<rect x="372.23" y="1021.24" width="166.23" height="128.99" fill="#48ff00"/>
<rect x="372.23" y="1149.22" width="166.23" height="103.39" fill="#46ff00"/>
<rect x="372.23" y="1251.61" width="166.23" height="26.6" fill="#41ff00"/>
<rect x="372.23" y="1277.21" width="166.23" height="52.19" fill="#44ff00"/>
<rect x="372.23" y="1328.41" width="166.23" height="26.6" fill="#64ff00"/>
<rect x="372.23" y="1354" width="166.23" height="27.6" fill="#48ff00"/>
<rect x="537.45" y="430.5" width="166.23" height="28.6" fill="#ff0000"/>
<rect x="537.45" y="458.1" width="166.23" height="26.6" fill="#f5ff00"/>
<rect x="537.45" y="483.69" width="166.23" height="26.6" fill="#a5ff00"/>
<rect x="537.45" y="509.29" width="166.23" height="52.19" fill="#a0ff00"/>
<rect x="537.45" y="560.49" width="166.23" height="52.19" fill="#ffff00"/>
<rect x="537.45" y="611.68" width="166.23" height="26.6" fill="#7dff00"/>
<rect x="537.45" y="637.28" width="166.23" height="26.6" fill="#ffff00"/>
<rect x="537.45" y="662.88" width="166.23" height="26.6" fill="#f0ff00"/>
<rect x="537.45" y="688.47" width="166.23" height="26.6" fill="#faff00"/>
<rect x="537.45" y="714.07" width="166.23" height="26.6" fill="#96ff00"/>
<rect x="537.45" y="739.67" width="166.23" height="26.6" fill="#52ff00"/>
<rect x="537.45" y="765.26" width="166.23" height="26.6" fill="#c3ff00"/>
<rect x="537.45" y="790.86" width="166.23" height="26.6" fill="#c8ff00"/>
<rect x="537.45" y="816.46" width="166.23" height="26.6" fill="#c3ff00"/>
<rect x="537.45" y="842.06" width="166.23" height="26.6" fill="#c8ff00"/>
<rect x="537.45" y="867.65" width="166.23" height="26.6" fill="#91ff00"/>
<rect x="537.45" y="893.25" width="166.23" height="26.6" fill="#b9ff00"/>
<rect x="537.45" y="918.85" width="166.23" height="26.6" fill="#a5ff00"/>
<rect x="537.45" y="944.45" width="166.23" height="26.6" fill="#d7ff00"/>
<rect x="537.45" y="970.04" width="166.23" height="26.6" fill="#cdff00"/>
<rect x="537.45" y="995.64" width="166.23" height="26.6" fill="#b9ff00"/>
<rect x="537.45" y="1021.24" width="166.23" height="26.6" fill="#d7ff00"/>
<rect x="537.45" y="1046.84" width="166.23" height="26.6" fill="#aaff00"/>
<rect x="537.45" y="1072.43" width="166.23" height="26.6" fill="#c8ff00"/>
<rect x="537.45" y="1098.03" width="166.23" height="26.6" fill="#b4ff00"/>
<rect x="537.45" y="1123.63" width="166.23" height="26.6" fill="#c3ff00"/>
<rect x="537.45" y="1149.22" width="166.23" height="26.6" fill="#98ff00"/>
<rect x="537.45" y="1174.82" width="166.23" height="26.6" fill="#76ff00"/>
<rect x="537.45" y="1200.42" width="166.23" height="26.6" fill="#a5ff00"/>
<rect x="537.45" y="1226.02" width="166.23" height="26.6" fill="#7eff00"/>
<rect x="537.45" y="1251.61" width="166.23" height="26.6" fill="#8eff00"/>
<rect x="537.45" y="1277.21" width="166.23" height="52.19" fill="#ffff00"/>
<rect x="537.45" y="1328.41" width="166.23" height="26.6" fill="#ff6e00"/>
<rect x="537.45" y="1354" width="166.23" height="27.6" fill="#ffd700"/>
<rect x="702.67" y="430.5" width="166.23" height="28.6" fill="#ff0a00"/>
<rect x="702.67" y="458.1" width="166.23" height="52.19" fill="#ff0000"/>
<rect x="702.67" y="509.29" width="166.23" height="52.19" fill="#ffff00"/>
<rect x="702.67" y="560.49" width="166.23" height="77.79" fill="#ff0000"/>
<rect x="702.67" y="637.28" width="166.23" height="26.6" fill="#ff2d00"/>
<rect x="702.67" y="662.88" width="166.23" height="26.6" fill="#ffbe00"/>
<rect x="702.67" y="688.47" width="166.23" height="26.6" fill="#ff0500"/>
<rect x="702.67" y="714.07" width="166.23" height="26.6" fill="#b9ff00"/>
<rect x="702.67" y="739.67" width="166.23" height="26.6" fill="#d7ff00"/>
<rect x="702.67" y="765.26" width="166.23" height="77.79" fill="#ffff00"/>
<rect x="702.67" y="842.06" width="166.23" height="26.6" fill="#d7ff00"/>
<rect x="702.67" y="867.65" width="166.23" height="26.6" fill="#dcff00"/>
<rect x="702.67" y="893.25" width="166.23" height="26.6" fill="#cdff00"/>
<rect x="702.67" y="918.85" width="166.23" height="26.6" fill="#faff00"/>
<rect x="702.67" y="944.45" width="166.23" height="26.6" fill="#b4ff00"/>
<rect x="702.67" y="970.04" width="166.23" height="26.6" fill="#e1ff00"/>
<rect x="702.67" y="995.64" width="166.23" height="26.6" fill="#c8ff00"/>
<rect x="702.67" y="1021.24" width="166.23" height="103.39" fill="#ffff00"/>
<rect x="702.67" y="1123.63" width="166.23" height="26.6" fill="#82ff00"/>
<rect x="702.67" y="1149.22" width="166.23" height="26.6" fill="#d7ff00"/>
<rect x="702.67" y="1174.82" width="166.23" height="26.6" fill="#96ff00"/>
<rect x="702.67" y="1200.42" width="166.23" height="26.6" fill="#b4ff00"/>
<rect x="702.67" y="1226.02" width="166.23" height="26.6" fill="#8cff00"/>
<rect x="702.67" y="1251.61" width="166.23" height="26.6" fill="#aaff00"/>
<rect x="702.67" y="1277.21" width="166.23" height="26.6" fill="#ff0000"/>
<rect x="702.67" y="1302.81" width="166.23" height="26.6" fill="#ff8a00"/>
<rect x="702.67" y="1328.41" width="166.23" height="26.6" fill="#ffff00"/>
<rect x="702.67" y="1354" width="166.23" height="27.6" fill="#f3ff00"/>
<rect x="867.9" y="430.5" width="166.23" height="79.79" fill="#ffff00"/>
<rect x="867.9" y="509.29" width="166.23" height="26.6" fill="#beff00"/>
<rect x="867.9" y="534.89" width="166.23" height="26.6" fill="#ffff00"/>
<rect x="867.9" y="560.49" width="166.23" height="26.6" fill="#9bff00"/>
<rect x="867.9" y="586.08" width="166.23" height="26.6" fill="#ffff00"/>
<rect x="867.9" y="611.68" width="166.23" height="26.6" fill="#d7ff00"/>
<rect x="867.9" y="637.28" width="166.23" height="26.6" fill="#8cff00"/>
<rect x="867.9" y="662.88" width="166.23" height="52.19" fill="#ffff00"/>
<rect x="867.9" y="714.07" width="166.23" height="26.6" fill="#8cff00"/>
<rect x="867.9" y="739.67" width="166.23" height="26.6" fill="#82ff00"/>
<rect x="867.9" y="765.26" width="166.23" height="26.6" fill="#ffff00"/>
<rect x="867.9" y="790.86" width="166.23" height="26.6" fill="#dcff00"/>
<rect x="867.9" y="816.46" width="166.23" height="26.6" fill="#ffff00"/>
<rect x="867.9" y="842.06" width="166.23" height="26.6" fill="#afff00"/>
<rect x="867.9" y="867.65" width="166.23" height="26.6" fill="#aaff00"/>
<rect x="867.9" y="893.25" width="166.23" height="26.6" fill="#5aff00"/>
<rect x="867.9" y="918.85" width="166.23" height="26.6" fill="#82ff00"/>
<rect x="867.9" y="944.45" width="166.23" height="26.6" fill="#b9ff00"/>
<rect x="867.9" y="970.04" width="166.23" height="26.6" fill="#aaff00"/>
<rect x="867.9" y="995.64" width="166.23" height="26.6" fill="#c8ff00"/>
<rect x="867.9" y="1021.24" width="166.23" height="26.6" fill="#5fff00"/>
<rect x="867.9" y="1046.84" width="166.23" height="26.6" fill="#ffff00"/>
<rect x="867.9" y="1072.43" width="166.23" height="26.6" fill="#d7ff00"/>
<rect x="867.9" y="1098.03" width="166.23" height="26.6" fill="#b4ff00"/>
<rect x="867.9" y="1123.63" width="166.23" height="26.6" fill="#7dff00"/>
<rect x="867.9" y="1149.22" width="166.23" height="26.6" fill="#afff00"/>
<rect x="867.9" y="1174.82" width="166.23" height="26.6" fill="#82ff00"/>
<rect x="867.9" y="1200.42" width="166.23" height="26.6" fill="#beff00"/>
<rect x="867.9" y="1226.02" width="166.23" height="52.19" fill="#96ff00"/>
<rect x="867.9" y="1277.21" width="166.23" height="104.39" fill="#ff0000"/>
<rect x="1033.12" y="430.5" width="166.22" height="28.6" fill="#ff0000"/>
<rect x="1033.12" y="458.1" width="166.22" height="26.6" fill="#e1ff00"/>
<rect x="1033.12" y="483.69" width="166.22" height="26.6" fill="#ebff00"/>
<rect x="1033.12" y="509.29" width="166.22" height="26.6" fill="#a5ff00"/>
<rect x="1033.12" y="534.89" width="166.22" height="26.6" fill="#6eff00"/>
<rect x="1033.12" y="560.49" width="166.22" height="26.6" fill="#96ff00"/>
<rect x="1033.12" y="586.08" width="166.22" height="26.6" fill="#82ff00"/>
<rect x="1033.12" y="611.68" width="166.22" height="26.6" fill="#ffff00"/>
<rect x="1033.12" y="637.28" width="166.22" height="26.6" fill="#8cff00"/>
<rect x="1033.12" y="662.88" width="166.22" height="26.6" fill="#7dff00"/>
<rect x="1033.12" y="688.47" width="166.22" height="26.6" fill="#d4ff00"/>
<rect x="1033.12" y="714.07" width="166.22" height="26.6" fill="#94ff00"/>
<rect x="1033.12" y="739.67" width="166.22" height="26.6" fill="#80ff00"/>
<rect x="1033.12" y="765.26" width="166.22" height="52.19" fill="#ffff00"/>
<rect x="1033.12" y="816.46" width="166.22" height="26.6" fill="#beff00"/>
<rect x="1033.12" y="842.06" width="166.22" height="26.6" fill="#a0ff00"/>
<rect x="1033.12" y="867.65" width="166.22" height="26.6" fill="#d2ff00"/>
<rect x="1033.12" y="893.25" width="166.22" height="52.19" fill="#96ff00"/>
<rect x="1033.12" y="944.45" width="166.22" height="26.6" fill="#c3ff00"/>
<rect x="1033.12" y="970.04" width="166.22" height="26.6" fill="#78ff00"/>
<rect x="1033.12" y="995.64" width="166.22" height="26.6" fill="#8cff00"/>
<rect x="1033.12" y="1021.24" width="166.22" height="26.6" fill="#d7ff00"/>
<rect x="1033.12" y="1046.84" width="166.22" height="26.6" fill="#96ff00"/>
<rect x="1033.12" y="1072.43" width="166.22" height="26.6" fill="#ffff00"/>
<rect x="1033.12" y="1098.03" width="166.22" height="26.6" fill="#afff00"/>
<rect x="1033.12" y="1123.63" width="166.22" height="26.6" fill="#8cff00"/>
<rect x="1033.12" y="1149.22" width="166.22" height="26.6" fill="#c8ff00"/>
<rect x="1033.12" y="1174.82" width="166.22" height="26.6" fill="#7dff00"/>
<rect x="1033.12" y="1200.42" width="166.22" height="26.6" fill="#beff00"/>
<rect x="1033.12" y="1226.02" width="166.22" height="26.6" fill="#9bff00"/>
<rect x="1033.12" y="1251.61" width="166.22" height="26.6" fill="#96ff00"/>
<rect x="1033.12" y="1277.21" width="166.22" height="26.6" fill="#ff5a00"/>
<rect x="1033.12" y="1302.81" width="166.22" height="26.6" fill="#ffff00"/>
<rect x="1033.12" y="1328.41" width="166.22" height="26.6" fill="#a0ff00"/>
<rect x="1033.12" y="1354" width="166.22" height="27.6" fill="#ffff00"/>
<rect x="1198.35" y="430.5" width="166.22" height="130.99" fill="#ff0000"/>
<rect x="1198.35" y="560.49" width="166.22" height="26.6" fill="#f0ff00"/>
<rect x="1198.35" y="586.08" width="166.22" height="26.6" fill="#e1ff00"/>
<rect x="1198.35" y="611.68" width="166.22" height="26.6" fill="#9bff00"/>
<rect x="1198.35" y="637.28" width="166.22" height="26.6" fill="#ffff00"/>
<rect x="1198.35" y="662.88" width="166.22" height="26.6" fill="#c3ff00"/>
<rect x="1198.35" y="688.47" width="166.22" height="26.6" fill="#a5ff00"/>
<rect x="1198.35" y="714.07" width="166.22" height="52.19" fill="#ff0000"/>
<rect x="1198.35" y="765.26" width="166.22" height="26.6" fill="#ffcd00"/>
<rect x="1198.35" y="790.86" width="166.22" height="26.6" fill="#ffeb00"/>
<rect x="1198.35" y="816.46" width="166.22" height="26.6" fill="#fff500"/>
<rect x="1198.35" y="842.06" width="166.22" height="26.6" fill="#ffeb00"/>
<rect x="1198.35" y="867.65" width="166.22" height="154.58" fill="#ffff00"/>
<rect x="1198.35" y="1021.24" width="166.22" height="26.6" fill="#5fff00"/>
<rect x="1198.35" y="1046.84" width="166.22" height="26.6" fill="#ffff00"/>
<rect x="1198.35" y="1072.43" width="166.22" height="26.6" fill="#faff00"/>
<rect x="1198.35" y="1098.03" width="166.22" height="26.6" fill="#9bff00"/>
<rect x="1198.35" y="1123.63" width="166.22" height="26.6" fill="#8cff00"/>
<rect x="1198.35" y="1149.22" width="166.22" height="26.6" fill="#f0ff00"/>
<rect x="1198.35" y="1174.82" width="166.22" height="26.6" fill="#ffff00"/>
<rect x="1198.35" y="1200.42" width="166.22" height="26.6" fill="#8cff00"/>
<rect x="1198.35" y="1226.02" width="166.22" height="26.6" fill="#78ff00"/>
<rect x="1198.35" y="1251.61" width="166.22" height="26.6" fill="#b9ff00"/>
<rect x="1198.35" y="1277.21" width="166.22" height="26.6" fill="#ffdf00"/>
<rect x="1198.35" y="1302.81" width="166.22" height="26.6" fill="#e1ff00"/>
<rect x="1198.35" y="1328.41" width="166.22" height="53.19" fill="#ffff00"/>
<rect x="1363.58" y="430.5" width="167.22" height="28.6" fill="#ff0000"/>
<rect x="1363.58" y="458.1" width="167.22" height="26.6" fill="#ffc800"/>
<rect x="1363.58" y="483.69" width="167.22" height="77.79" fill="#ffff00"/>
<rect x="1363.58" y="560.49" width="167.22" height="52.19" fill="#ff0000"/>
<rect x="1363.58" y="611.68" width="167.22" height="26.6" fill="#a0ff00"/>
<rect x="1363.58" y="637.28" width="167.22" height="77.79" fill="#ffff00"/>
<rect x="1363.58" y="714.07" width="167.22" height="26.6" fill="#beff00"/>
<rect x="1363.58" y="739.67" width="167.22" height="26.6" fill="#50ff00"/>
<rect x="1363.58" y="765.26" width="167.22" height="103.39" fill="#ffff00"/>
<rect x="1363.58" y="867.65" width="167.22" height="26.6" fill="#aaff00"/>
<rect x="1363.58" y="893.25" width="167.22" height="26.6" fill="#e6ff00"/>
<rect x="1363.58" y="918.85" width="167.22" height="26.6" fill="#c8ff00"/>
<rect x="1363.58" y="944.45" width="167.22" height="103.39" fill="#ffff00"/>
<rect x="1363.58" y="1046.84" width="167.22" height="26.6" fill="#cdff00"/>
<rect x="1363.58" y="1072.43" width="167.22" height="26.6" fill="#d7ff00"/>
<rect x="1363.58" y="1098.03" width="167.22" height="52.19" fill="#ffff00"/>
<rect x="1363.58" y="1149.22" width="167.22" height="26.6" fill="#cdff00"/>
<rect x="1363.58" y="1174.82" width="167.22" height="26.6" fill="#8cff00"/>
<rect x="1363.58" y="1200.42" width="167.22" height="26.6" fill="#91ff00"/>
<rect x="1363.58" y="1226.02" width="167.22" height="26.6" fill="#8cff00"/>
<rect x="1363.58" y="1251.61" width="167.22" height="26.6" fill="#b4ff00"/>
<rect x="1363.58" y="1277.21" width="167.22" height="52.19" fill="#ff0000"/>
<rect x="1363.58" y="1328.41" width="167.22" height="26.6" fill="#6eff00"/>
<rect x="1363.58" y="1354" width="167.22" height="27.6" fill="#ffff00"/>
<path fill="#fff" fill-rule="evenodd" d="M204 429.5H1531.8V1382.6H204ZM207 432.5H1528.8V1379.6H207Z"/>
</g>
<g class="bl">
<text x="196.6" y="453.8">ORF9</text>
<text class="ws" x="196.6" y="477.25">tc2005 p118</text>
<rect x="30" y="479.75" width="170" height="5" fill="#fff" stroke="none"/>
<text class="ws" x="196.6" y="502.84">tc2005 p105</text>
<rect x="30" y="505.34" width="170" height="5" fill="#fff" stroke="none"/>
<text class="ws" x="196.6" y="528.44">tc2005 p094c</text>
<rect x="30" y="530.94" width="170" height="5" fill="#fff" stroke="none"/>
<text x="196.6" y="554.04">tc2005_p119c</text>
<text x="196.6" y="581.79">ORF25</text>
<text x="196.6" y="607.38">ORF38</text>
<text x="196.6" y="630.83">tc2005_p074</text>
<text x="196.6" y="658.58">ORF34</text>
<text x="196.6" y="684.17">ORF18</text>
<text x="196.6" y="709.77">ORF33</text>
<text x="196.6" y="735.37">ORF2</text>
<text class="ws" x="196.6" y="758.82">tc2005 p071c</text>
<rect x="30" y="761.32" width="170" height="5" fill="#fff" stroke="none"/>
<text class="ws" x="196.6" y="784.41">tc2005 p069c</text>
<rect x="30" y="786.91" width="170" height="5" fill="#fff" stroke="none"/>
<text class="ws" x="196.6" y="810.01">tc2005 p104</text>
<rect x="30" y="812.51" width="170" height="5" fill="#fff" stroke="none"/>
<text x="196.6" y="835.61">tc2005_p099c</text>
<text x="196.6" y="863.36">ORF22</text>
<text x="196.6" y="888.95">ORF15</text>
<text class="ws" x="196.6" y="912.4">tc2005 p063</text>
<rect x="30" y="914.9" width="170" height="5" fill="#fff" stroke="none"/>
<text class="ws" x="196.6" y="938">tc2005 p084</text>
<rect x="30" y="940.5" width="170" height="5" fill="#fff" stroke="none"/>
<text x="196.6" y="963.59">tc2005_p092</text>
<text x="196.6" y="991.34">ORF1</text>
<text class="ws" x="196.6" y="1014.79">tc2005 p065</text>
<rect x="30" y="1017.29" width="170" height="5" fill="#fff" stroke="none"/>
<text x="196.6" y="1040.39">tc2005_p100c</text>
<text x="196.6" y="1068.13">ORF43</text>
<text class="ws" x="196.6" y="1091.58">tc2005 p097</text>
<rect x="30" y="1094.08" width="170" height="5" fill="#fff" stroke="none"/>
<text x="196.6" y="1117.18">tc2005_p086c</text>
<text x="196.6" y="1144.93">ORF55</text>
<text x="196.6" y="1168.37">tc2005_p125c</text>
<text x="196.6" y="1196.12">ORF32</text>
<text x="196.6" y="1221.72">ORF28</text>
<text x="196.6" y="1247.31">ORF49</text>
<text class="ws" x="196.6" y="1270.76">tc2005 p061</text>
<rect x="30" y="1273.26" width="170" height="5" fill="#fff" stroke="none"/>
<text x="196.6" y="1296.36">tc2005_p067c</text>
<text x="196.6" y="1324.11">ORF53</text>
<text x="196.6" y="1349.7">ORF44</text>
<text x="196.6" y="1375.3">ORF54</text>
</g>
<rect x="537.4" y="1398.9" width="661.2" height="20.2" fill="url(#gb)" stroke="#000" stroke-width="1.4"/>
<path d="M537.5 1419V1427M656.4 1419V1427M775.6 1419V1427M894.4 1419V1427M1013.4 1419V1427M1198.2 1419V1427" stroke="#000" stroke-width="1.5" fill="none"/>
<g font-size="23.6" text-anchor="middle" stroke="#000" stroke-width="0.2">
<text x="537" y="1452.1">0</text>
<text x="655.6" y="1452.1">0.1</text>
<text x="775.3" y="1452.1">0.2</text>
<text x="894.4" y="1452.1">0.3</text>
<text x="1013.4" y="1452.1">0.4</text>
<text x="1198" y="1452.1">&gt;0.5</text>
</g>
</g>
</svg>
</body></html>
